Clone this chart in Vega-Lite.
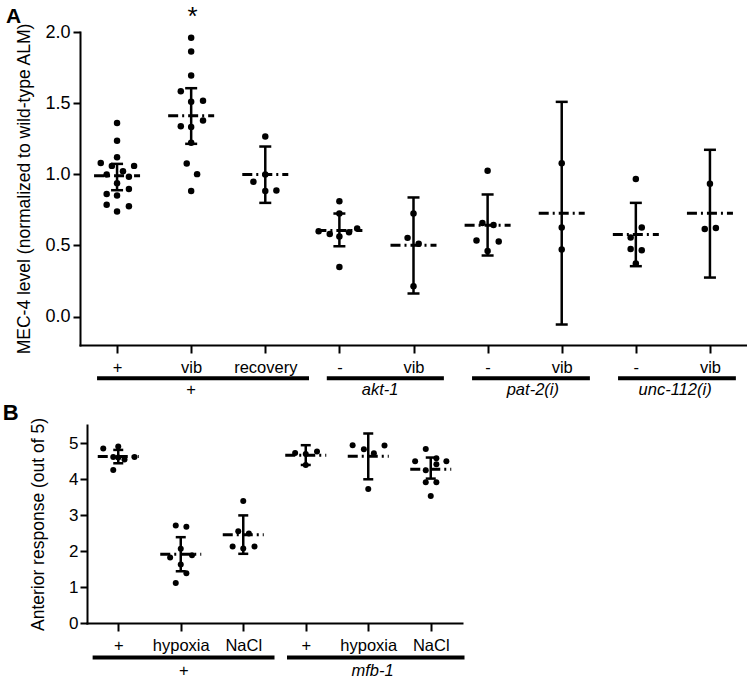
{
  "$schema": "https://vega.github.io/schema/vega-lite/v6.json",
  "padding": {"left": 2, "top": 3, "right": 0, "bottom": 0},
  "spacing": 2,
  "config": {
    "view": {"stroke": null},
    "font": "Liberation Sans",
    "axis": {"domainColor": "black", "domainWidth": 2, "domainCap": "square", "tickColor": "black", "tickWidth": 2, "labelColor": "black", "titleColor": "black", "titleFontWeight": "normal", "labelFont": "Liberation Sans", "titleFont": "Liberation Sans", "grid": false, "labelOverlap": false},
    "axisY": {"labelOverlap": false},
    "text": {"font": "Liberation Sans", "color": "black"}
  },
  "datasets": {
    "a_pts": [
      {"g": 1, "x": 1.0, "v": 1.361}, {"g": 1, "x": 1.0, "v": 1.235}, {"g": 1, "x": 1.0, "v": 1.12}, {"g": 1, "x": 0.78, "v": 1.08},
      {"g": 1, "x": 0.93, "v": 1.059}, {"g": 1, "x": 1.23, "v": 1.059}, {"g": 1, "x": 1.08, "v": 1.022}, {"g": 1, "x": 0.86, "v": 0.998},
      {"g": 1, "x": 1.16, "v": 0.982}, {"g": 1, "x": 1.0, "v": 0.937}, {"g": 1, "x": 0.86, "v": 0.862}, {"g": 1, "x": 1.16, "v": 0.897},
      {"g": 1, "x": 1.0, "v": 0.851}, {"g": 1, "x": 0.86, "v": 0.785}, {"g": 1, "x": 1.16, "v": 0.776}, {"g": 1, "x": 1.0, "v": 0.738},
      {"g": 2, "x": 2.0, "v": 1.959}, {"g": 2, "x": 2.0, "v": 1.863}, {"g": 2, "x": 2.0, "v": 1.695}, {"g": 2, "x": 1.86, "v": 1.584},
      {"g": 2, "x": 2.0, "v": 1.509}, {"g": 2, "x": 2.16, "v": 1.516}, {"g": 2, "x": 2.16, "v": 1.378}, {"g": 2, "x": 1.86, "v": 1.338},
      {"g": 2, "x": 2.0, "v": 1.333}, {"g": 2, "x": 2.0, "v": 1.221}, {"g": 2, "x": 1.94, "v": 1.076}, {"g": 2, "x": 2.08, "v": 1.001},
      {"g": 2, "x": 2.0, "v": 0.883},
      {"g": 3, "x": 3.0, "v": 1.266}, {"g": 3, "x": 3.0, "v": 0.999}, {"g": 3, "x": 2.84, "v": 0.947}, {"g": 3, "x": 3.0, "v": 0.883}, {"g": 3, "x": 3.15, "v": 0.886},
      {"g": 4, "x": 4.0, "v": 0.811}, {"g": 4, "x": 4.0, "v": 0.724}, {"g": 4, "x": 3.72, "v": 0.6}, {"g": 4, "x": 3.87, "v": 0.581},
      {"g": 4, "x": 4.0, "v": 0.563}, {"g": 4, "x": 4.13, "v": 0.593}, {"g": 4, "x": 4.24, "v": 0.619}, {"g": 4, "x": 4.0, "v": 0.349},
      {"g": 5, "x": 5.0, "v": 0.724}, {"g": 5, "x": 4.92, "v": 0.553}, {"g": 5, "x": 5.07, "v": 0.511}, {"g": 5, "x": 5.0, "v": 0.213},
      {"g": 6, "x": 6.0, "v": 1.024}, {"g": 6, "x": 5.93, "v": 0.658}, {"g": 6, "x": 6.08, "v": 0.644}, {"g": 6, "x": 5.85, "v": 0.534},
      {"g": 6, "x": 6.15, "v": 0.527}, {"g": 6, "x": 6.0, "v": 0.461},
      {"g": 7, "x": 7.0, "v": 1.078}, {"g": 7, "x": 7.0, "v": 0.626}, {"g": 7, "x": 7.0, "v": 0.471},
      {"g": 8, "x": 8.0, "v": 0.966}, {"g": 8, "x": 8.08, "v": 0.626}, {"g": 8, "x": 7.93, "v": 0.556}, {"g": 8, "x": 7.93, "v": 0.475},
      {"g": 8, "x": 8.08, "v": 0.466}, {"g": 8, "x": 8.0, "v": 0.373},
      {"g": 9, "x": 9.0, "v": 0.933}, {"g": 9, "x": 8.93, "v": 0.616}, {"g": 9, "x": 9.08, "v": 0.623}
    ],
    "a_sum": [
      {"g": 1, "mean": 0.989, "lo": 0.888, "hi": 1.073},
      {"g": 2, "mean": 1.411, "lo": 1.214, "hi": 1.605},
      {"g": 3, "mean": 0.999, "lo": 0.799, "hi": 1.195},
      {"g": 4, "mean": 0.605, "lo": 0.494, "hi": 0.724},
      {"g": 5, "mean": 0.501, "lo": 0.162, "hi": 0.837},
      {"g": 6, "mean": 0.642, "lo": 0.429, "hi": 0.858},
      {"g": 7, "mean": 0.726, "lo": -0.056, "hi": 1.509},
      {"g": 8, "mean": 0.577, "lo": 0.354, "hi": 0.799},
      {"g": 9, "mean": 0.726, "lo": 0.274, "hi": 1.172}
    ],
    "a_grp": [
      {"label": "+", "x1": 0.73, "x2": 3.59, "mid": 2.0},
      {"label": "akt-1", "x1": 3.83, "x2": 5.41, "mid": 4.55},
      {"label": "pat-2(i)", "x1": 5.79, "x2": 7.38, "mid": 6.61},
      {"label": "unc-112(i)", "x1": 7.76, "x2": 9.35, "mid": 8.53}
    ],
    "b_pts": [
      {"g": 1, "x": 0.76, "v": 4.847}, {"g": 1, "x": 1.0, "v": 4.903}, {"g": 1, "x": 0.92, "v": 4.251}, {"g": 1, "x": 0.92, "v": 4.613},
      {"g": 1, "x": 1.1, "v": 4.54}, {"g": 1, "x": 1.26, "v": 4.613}, {"g": 1, "x": 1.0, "v": 4.6},
      {"g": 2, "x": 1.92, "v": 2.71}, {"g": 2, "x": 2.09, "v": 2.674}, {"g": 2, "x": 2.0, "v": 2.061}, {"g": 2, "x": 1.83, "v": 1.819},
      {"g": 2, "x": 2.18, "v": 1.883}, {"g": 2, "x": 2.0, "v": 1.624}, {"g": 2, "x": 2.09, "v": 1.382}, {"g": 2, "x": 1.92, "v": 1.114},
      {"g": 3, "x": 3.0, "v": 3.387}, {"g": 3, "x": 2.92, "v": 2.552}, {"g": 3, "x": 3.09, "v": 2.487}, {"g": 3, "x": 2.83, "v": 2.125},
      {"g": 3, "x": 3.0, "v": 2.07}, {"g": 3, "x": 3.18, "v": 2.125},
      {"g": 4, "x": 3.83, "v": 4.724}, {"g": 4, "x": 4.0, "v": 4.697}, {"g": 4, "x": 4.18, "v": 4.763}, {"g": 4, "x": 4.0, "v": 4.39},
      {"g": 5, "x": 4.75, "v": 4.939}, {"g": 5, "x": 4.93, "v": 4.827}, {"g": 5, "x": 5.09, "v": 4.716}, {"g": 5, "x": 5.26, "v": 4.93},
      {"g": 5, "x": 5.0, "v": 3.722},
      {"g": 6, "x": 5.92, "v": 4.836}, {"g": 6, "x": 5.75, "v": 4.493}, {"g": 6, "x": 6.09, "v": 4.577}, {"g": 6, "x": 6.25, "v": 4.493},
      {"g": 6, "x": 5.92, "v": 4.242}, {"g": 6, "x": 6.09, "v": 4.41}, {"g": 6, "x": 5.92, "v": 3.91}, {"g": 6, "x": 6.09, "v": 3.91},
      {"g": 6, "x": 6.0, "v": 3.527}
    ],
    "b_sum": [
      {"g": 1, "mean": 4.624, "lo": 4.437, "hi": 4.808},
      {"g": 2, "mean": 1.911, "lo": 1.437, "hi": 2.384},
      {"g": 3, "mean": 2.451, "lo": 1.922, "hi": 2.989},
      {"g": 4, "mean": 4.66, "lo": 4.39, "hi": 4.939},
      {"g": 5, "mean": 4.632, "lo": 3.992, "hi": 5.264},
      {"g": 6, "mean": 4.27, "lo": 4.011, "hi": 4.596}
    ],
    "b_grp": [
      {"label": "+", "x1": 0.59, "x2": 3.5, "mid": 2.05},
      {"label": "mfb-1", "x1": 3.7, "x2": 6.54, "mid": 5.07}
    ]
  },
  "vconcat": [
    {
      "width": 667,
      "height": 313,
      "layer": [
        {
          "data": {"name": "a_sum"},
          "mark": {"type": "rule", "strokeWidth": 3, "strokeDash": [10, 4, 2, 4], "xOffset": -23, "x2Offset": 23, "color": "black"},
          "encoding": {
            "x": {"field": "g", "type": "quantitative", "scale": {"domain": [0.5, 9.5], "nice": false, "zero": false},
              "axis": {"values": [1, 2, 3, 4, 5, 6, 7, 8, 9], "labelExpr": "['','+','vib','recovery','-','vib','-','vib','-','vib'][datum.value]", "title": null, "tickSize": 8, "labelPadding": 6, "labelFontSize": 16.5, "labelOverlap": false, "labelFlush": false}},
            "x2": {"field": "g"},
            "y": {"field": "mean", "type": "quantitative", "scale": {"domain": [-0.2, 2], "nice": false, "zero": false},
              "axis": {"values": [0, 0.5, 1, 1.5, 2], "format": ".1f", "title": "MEC-4 level (normalized to wild-type ALM)", "tickSize": 7, "labelPadding": 3, "labelFontSize": 18, "labelOverlap": false, "titleFontSize": 17.5, "titlePadding": 11}}
          }
        },
        {
          "data": {"name": "a_sum"},
          "mark": {"type": "rule", "strokeWidth": 2.5, "color": "black"},
          "encoding": {
            "x": {"field": "g", "type": "quantitative"},
            "y": {"field": "lo", "type": "quantitative"},
            "y2": {"field": "hi"}
          }
        },
        {
          "data": {"name": "a_sum"},
          "mark": {"type": "rule", "strokeWidth": 2.5, "xOffset": -6, "x2Offset": 6, "color": "black"},
          "encoding": {
            "x": {"field": "g", "type": "quantitative"},
            "x2": {"field": "g"},
            "y": {"field": "hi", "type": "quantitative"}
          }
        },
        {
          "data": {"name": "a_sum"},
          "mark": {"type": "rule", "strokeWidth": 2.5, "xOffset": -6, "x2Offset": 6, "color": "black"},
          "encoding": {
            "x": {"field": "g", "type": "quantitative"},
            "x2": {"field": "g"},
            "y": {"field": "lo", "type": "quantitative"}
          }
        },
        {
          "data": {"name": "a_pts"},
          "mark": {"type": "circle", "size": 42, "color": "black", "opacity": 1},
          "encoding": {
            "x": {"field": "x", "type": "quantitative"},
            "y": {"field": "v", "type": "quantitative"}
          }
        },
        {
          "data": {"name": "a_grp"},
          "mark": {"type": "rule", "strokeWidth": 4, "color": "black"},
          "encoding": {
            "x": {"field": "x1", "type": "quantitative"},
            "x2": {"field": "x2"},
            "y": {"datum": -0.434, "type": "quantitative"}
          }
        },
        {
          "data": {"name": "a_grp"},
          "transform": [{"filter": "datum.label == '+'"}],
          "mark": {"type": "text", "fontSize": 16.5, "align": "center", "baseline": "alphabetic"},
          "encoding": {
            "x": {"field": "mid", "type": "quantitative"},
            "y": {"datum": -0.553, "type": "quantitative"},
            "text": {"field": "label"}
          }
        },
        {
          "data": {"name": "a_grp"},
          "transform": [{"filter": "datum.label != '+'"}],
          "mark": {"type": "text", "fontSize": 16.5, "fontStyle": "italic", "align": "center", "baseline": "alphabetic"},
          "encoding": {
            "x": {"field": "mid", "type": "quantitative"},
            "y": {"datum": -0.553, "type": "quantitative"},
            "text": {"field": "label"}
          }
        },
        {
          "data": {"values": [{"t": "*"}]},
          "mark": {"type": "text", "fontSize": 26, "align": "center", "baseline": "alphabetic"},
          "encoding": {
            "x": {"datum": 2.02, "type": "quantitative"},
            "y": {"datum": 2.051, "type": "quantitative"},
            "text": {"field": "t"}
          }
        },
        {
          "data": {"values": [{"t": "A"}]},
          "mark": {"type": "text", "fontSize": 21, "fontWeight": "bold", "align": "left", "baseline": "alphabetic"},
          "encoding": {
            "x": {"datum": -0.5, "type": "quantitative"},
            "y": {"datum": 2.063, "type": "quantitative"},
            "text": {"field": "t"}
          }
        }
      ]
    },
    {
      "width": 382,
      "height": 198,
      "layer": [
        {
          "data": {"name": "b_pts"},
          "mark": {"type": "circle", "size": 36, "color": "black", "opacity": 1},
          "encoding": {
            "x": {"field": "x", "type": "quantitative", "scale": {"domain": [0.5, 6.5], "range": [7, 382], "nice": false, "zero": false},
              "axis": {"values": [1, 2, 3, 4, 5, 6], "labelExpr": "['','+','hypoxia','NaCl','+','hypoxia','NaCl'][datum.value]", "title": null, "tickSize": 8, "labelPadding": 6, "labelFontSize": 16.5, "labelOverlap": false, "labelFlush": false}},
            "y": {"field": "v", "type": "quantitative", "scale": {"domain": [0, 5.5], "nice": false, "zero": false},
              "axis": {"values": [0, 1, 2, 3, 4, 5], "tickCount": 6, "offset": -7, "title": "Anterior response (out of 5)", "tickSize": 7, "labelPadding": 2, "labelFontSize": 17, "labelOverlap": false, "titleFontSize": 17.5, "titlePadding": 21}}
          }
        },
        {
          "data": {"name": "b_sum"},
          "mark": {"type": "rule", "strokeWidth": 3, "strokeDash": [10, 4, 2, 4], "xOffset": -20.5, "x2Offset": 20.5, "color": "black"},
          "encoding": {
            "x": {"field": "g", "type": "quantitative"},
            "x2": {"field": "g"},
            "y": {"field": "mean", "type": "quantitative"}
          }
        },
        {
          "data": {"name": "b_sum"},
          "mark": {"type": "rule", "strokeWidth": 2.5, "color": "black"},
          "encoding": {
            "x": {"field": "g", "type": "quantitative"},
            "y": {"field": "lo", "type": "quantitative"},
            "y2": {"field": "hi"}
          }
        },
        {
          "data": {"name": "b_sum"},
          "mark": {"type": "rule", "strokeWidth": 2.5, "xOffset": -5, "x2Offset": 5, "color": "black"},
          "encoding": {
            "x": {"field": "g", "type": "quantitative"},
            "x2": {"field": "g"},
            "y": {"field": "hi", "type": "quantitative"}
          }
        },
        {
          "data": {"name": "b_sum"},
          "mark": {"type": "rule", "strokeWidth": 2.5, "xOffset": -5, "x2Offset": 5, "color": "black"},
          "encoding": {
            "x": {"field": "g", "type": "quantitative"},
            "x2": {"field": "g"},
            "y": {"field": "lo", "type": "quantitative"}
          }
        },
        {
          "data": {"name": "b_grp"},
          "mark": {"type": "rule", "strokeWidth": 4, "color": "black"},
          "encoding": {
            "x": {"field": "x1", "type": "quantitative"},
            "x2": {"field": "x2"},
            "y": {"datum": -0.956, "type": "quantitative"}
          }
        },
        {
          "data": {"name": "b_grp"},
          "transform": [{"filter": "datum.label == '+'"}],
          "mark": {"type": "text", "fontSize": 16.5, "align": "center", "baseline": "alphabetic"},
          "encoding": {
            "x": {"field": "mid", "type": "quantitative"},
            "y": {"datum": -1.47, "type": "quantitative"},
            "text": {"field": "label"}
          }
        },
        {
          "data": {"name": "b_grp"},
          "transform": [{"filter": "datum.label != '+'"}],
          "mark": {"type": "text", "fontSize": 16.5, "fontStyle": "italic", "align": "center", "baseline": "alphabetic"},
          "encoding": {
            "x": {"field": "mid", "type": "quantitative"},
            "y": {"datum": -1.47, "type": "quantitative"},
            "text": {"field": "label"}
          }
        },
        {
          "data": {"values": [{"t": "B"}]},
          "mark": {"type": "text", "fontSize": 22, "fontWeight": "bold", "align": "left", "baseline": "alphabetic"},
          "encoding": {
            "x": {"datum": -0.847, "type": "quantitative"},
            "y": {"datum": 5.647, "type": "quantitative"},
            "text": {"field": "t"}
          }
        }
      ]
    }
  ]
}
